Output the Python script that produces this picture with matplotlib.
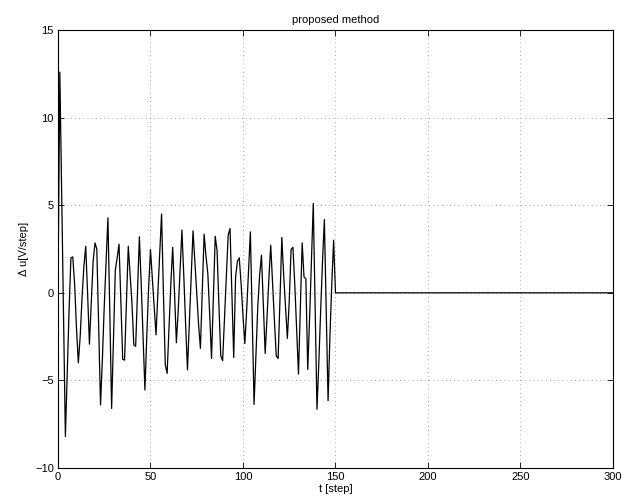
import numpy as np
import matplotlib
matplotlib.use('Agg')
import matplotlib.pyplot as plt

# control increment (t = 0..150)
du_active = [
    0.0, 12.6, 5.7, -1.2, -8.2, -4.5, -1.0, 2.0, 2.05, 0.5,
    -2.0, -4.0, -2.5, -0.3, 1.5, 2.66, 0.0, -2.93, -0.5, 1.8,
    2.85, 2.5, -2.0, -6.4, -3.8, -0.8, 1.8, 4.28, -1.0, -6.6,
    -2.6, 1.3, 2.0, 2.78, -0.5, -3.8, -3.84, -0.5, 2.66, 1.0,
    -0.6, -2.98, -3.05, 0.0, 3.2, 0.5, -2.5, -5.55, -2.5, 0.3,
    2.47, 0.8, -0.8, -2.4, 0.0, 2.2, 4.5, 0.0, -4.1, -4.6,
    -2.0, 0.5, 2.6, 0.0, -2.85, -1.0, 1.3, 3.58, 1.0, -1.8,
    -4.4, -1.7, 1.0, 3.54, 1.8, 0.0, -1.8, -3.17, 0.1, 3.35,
    2.1, 1.1, -1.2, -3.75, -0.2, 3.23, 2.4, -0.7, -3.6, -3.88,
    -1.5, 1.0, 3.3, 3.67, 0.0, -3.69, 0.9, 1.8, 2.0, 0.5,
    -1.3, -2.9, -1.0, 1.2, 3.48, -1.5, -6.37, -3.5, -0.8, 1.0,
    2.15, -0.6, -3.46, -1.4, 0.8, 2.72, 0.5, -1.6, -3.6, -3.75,
    -0.4, 3.16, 1.0, -0.8, -2.6, -0.5, 2.47, 2.6, 0.5, -2.0,
    -4.64, -1.0, 2.85, 0.9, 0.8, -4.37, -1.5, 1.8, 5.1, -0.8,
    -6.65, -4.0, -1.0, 1.8, 4.18, -1.0, -6.16, -2.5, 0.5, 3.0,
    0.0,
]
# after t = 150 the increment stays at zero
du_idle = [0.0] * 150

du = np.array(du_active + du_idle)
t = np.arange(len(du))

plt.rcParams['font.family'] = ['Liberation Sans', 'DejaVu Sans']
plt.rcParams['font.size'] = 8

fig = plt.figure(figsize=(6.35, 5.04), dpi=100)
ax = fig.add_axes([0.0913, 0.0714, 0.8740, 0.8690])

ax.plot(t, du, color='black', linewidth=0.9)

ax.set_xlim(0, 300)
ax.set_ylim(-10, 15)
ax.set_xticks(np.arange(0, 301, 50))
ax.set_yticks(np.arange(-10, 16, 5))
ax.set_yticklabels(['\u221210', '\u22125', '0', '5', '10', '15'])
ax.grid(True, linestyle=(0, (1, 5)), color='black', linewidth=0.5, alpha=0.6)
ax.tick_params(direction='in', top=True, right=True, length=4, width=0.6, pad=3)
for s in ax.spines.values():
    s.set_linewidth(0.8)

ax.set_title('proposed method', fontsize=8, pad=5)
ax.set_xlabel('t [step]', labelpad=1)
ax.set_ylabel('\u0394 u[V/step]', labelpad=4)

fig.savefig('out.png', dpi=100)
